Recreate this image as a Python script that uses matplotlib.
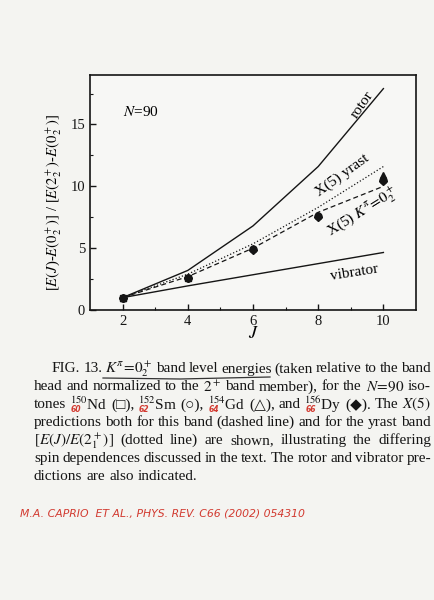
import matplotlib
matplotlib.use('Agg')
import matplotlib.pyplot as plt
from matplotlib.lines import Line2D
import numpy as np

plt.rcParams['font.family'] = ['Liberation Serif', 'DejaVu Serif']
plt.rcParams['mathtext.fontset'] = 'stix'

# values
J = [2, 4, 6, 8, 10]
rotor = [1.0, 3.2, 6.8, 11.6, 17.9]
vibrator = [1.0, 1.95, 2.85, 3.75, 4.65]
x5_yrast = [1.0, 2.9, 5.35, 8.3, 11.6]
x5_band = [1.0, 2.7, 5.0, 7.9, 10.0]

# experimental K=0_2 band points, one list per isotope
nd150_J = [2, 4]
nd150 = [1.0, 2.6]
sm152_J = [2, 4, 6, 8, 10]
sm152 = [1.0, 2.6, 4.9, 7.6, 10.5]
gd154_J = [2, 4, 6, 8, 10]
gd154 = [1.0, 2.65, 5.0, 7.7, 10.9]
dy156_J = [2, 4, 6, 8, 10]
dy156 = [1.0, 2.55, 4.85, 7.5, 10.4]

caption = [
    r'FIG. 13. $K^{\pi}\!=\!0_2^+$ band level energies (taken relative to the band',
    r'head and normalized to the $2^+$ band member), for the $N\!=\!90$ iso-',
    r'tones $^{150}$Nd (□), $^{152}$Sm (○), $^{154}$Gd (△), and $^{156}$Dy (◆). The $X(5)$',
    r'predictions both for this band (dashed line) and for the yrast band',
    r'[$E(J)/E(2_1^+)$] (dotted line) are shown, illustrating the differing',
    r'spin dependences discussed in the text. The rotor and vibrator pre-',
    r'dictions are also indicated.',
]
z_numbers = ['60', '62', '64', '66']
note = 'M.A. CAPRIO  ET AL., PHYS. REV. C66 (2002) 054310'

W, H = 434, 600
fig = plt.figure(figsize=(W / 100, H / 100), dpi=100, facecolor='#f4f4f1')
ax = fig.add_axes([90 / W, 1 - 310 / H, 326 / W, 235 / H])
ax.set_facecolor('#f7f7f5')

ink = '#151515'
ax.plot(J, rotor, '-', color=ink, lw=1.0)
ax.plot(J, vibrator, '-', color=ink, lw=1.0)
ax.plot(J, x5_yrast, ':', color=ink, lw=0.9)
ax.plot(J, x5_band, '--', color=ink, lw=0.9, dashes=(4, 2.5))

ms = 5
ax.plot(nd150_J, nd150, 's', color=ink, ms=ms - 1)
ax.plot(sm152_J, sm152, 'o', color=ink, ms=ms)
ax.plot(gd154_J, gd154, '^', color=ink, ms=ms)
ax.plot(dy156_J, dy156, 'D', color=ink, ms=ms - 1)

ax.set_xlim(1, 11)
ax.set_ylim(0, 19)
ax.set_xticks([2, 4, 6, 8, 10])
ax.set_xticks([3, 5, 7, 9], minor=True)
ax.set_yticks([0, 5, 10, 15])
ax.set_yticks([2.5, 7.5, 12.5, 17.5], minor=True)
ax.tick_params(which='both', direction='in', top=False, right=False,
               labelsize=10.5, colors=ink)
ax.tick_params(which='major', length=4, width=1)
ax.tick_params(which='minor', length=2.5, width=0.8)
for s in ax.spines.values():
    s.set_linewidth(1.2)
    s.set_color(ink)

ax.set_xlabel(r'$J$', fontsize=13)
ax.xaxis.set_label_coords(0.5, -0.065)
ax.set_ylabel(r'[$E(J$)-$E(0_2^+)$] / [$E(2_2^+)$-$E(0_2^+)$]', fontsize=10.5)
ax.yaxis.set_label_coords(-0.08, 0.46)

ax.text(2.0, 16.0, r'$N$=90', fontsize=11, va='center', ha='left')
ax.text(9.35, 16.6, 'rotor', fontsize=11, rotation=55, ha='center', va='center')
ax.text(8.75, 10.9, r'X(5) yrast', fontsize=11, rotation=36, ha='center', va='center')
ax.text(9.35, 7.9, r'X(5) $K^{\pi}\!=\!0_2^+$', fontsize=11, rotation=32,
        ha='center', va='center')
ax.text(9.1, 3.05, 'vibrator', fontsize=11, rotation=9, ha='center', va='center')

# caption, justified line by line
r = fig.canvas.get_renderer()
cap_fs = 11
y0, dy = 1 - 369 / H, 17.9 / H
space = 4 / W
word_pos = []
for i, line in enumerate(caption):
    words = line.split(' ')
    # keep mathtext pieces with spaces together
    merged = []
    for w in words:
        if merged and merged[-1].count('$') % 2 == 1:
            merged[-1] += ' ' + w
        else:
            merged.append(w)
    x0 = (52 if i == 0 else 34) / W
    x1 = 431 / W
    y = y0 - i * dy
    ts = [fig.text(x0, y, w, fontsize=cap_fs, va='center', color=ink) for w in merged]
    widths = [t.get_window_extent(r).width / fig.bbox.width for t in ts]
    last = i == len(caption) - 1
    gap = space if last else (x1 - x0 - sum(widths)) / (len(merged) - 1)
    x = x0
    for t, w in zip(ts, widths):
        t.set_x(x)
        if i == 2 and t.get_text().startswith('$^{1'):
            word_pos.append(x)
        x += w + gap

# hand-written additions on the scan
red = '#d23a30'
for x, z in zip(word_pos, z_numbers):
    fig.text(x + 1 / W, y0 - 2 * dy - 5 / H, z, fontsize=5.5, color=red,
             family='DejaVu Sans', style='italic', fontweight='bold', va='center')
fig.add_artist(Line2D([103 / W, 180 / W, 270 / W], [1 - 378 / H, 1 - 379 / H, 1 - 377 / H],
                      color='#333333', lw=0.9))
fig.text(20 / W, 1 - 513 / H, note, fontsize=7.8, color=red, family='DejaVu Sans',
         style='italic', va='center')

fig.savefig('out.png', dpi=100, facecolor=fig.get_facecolor())
